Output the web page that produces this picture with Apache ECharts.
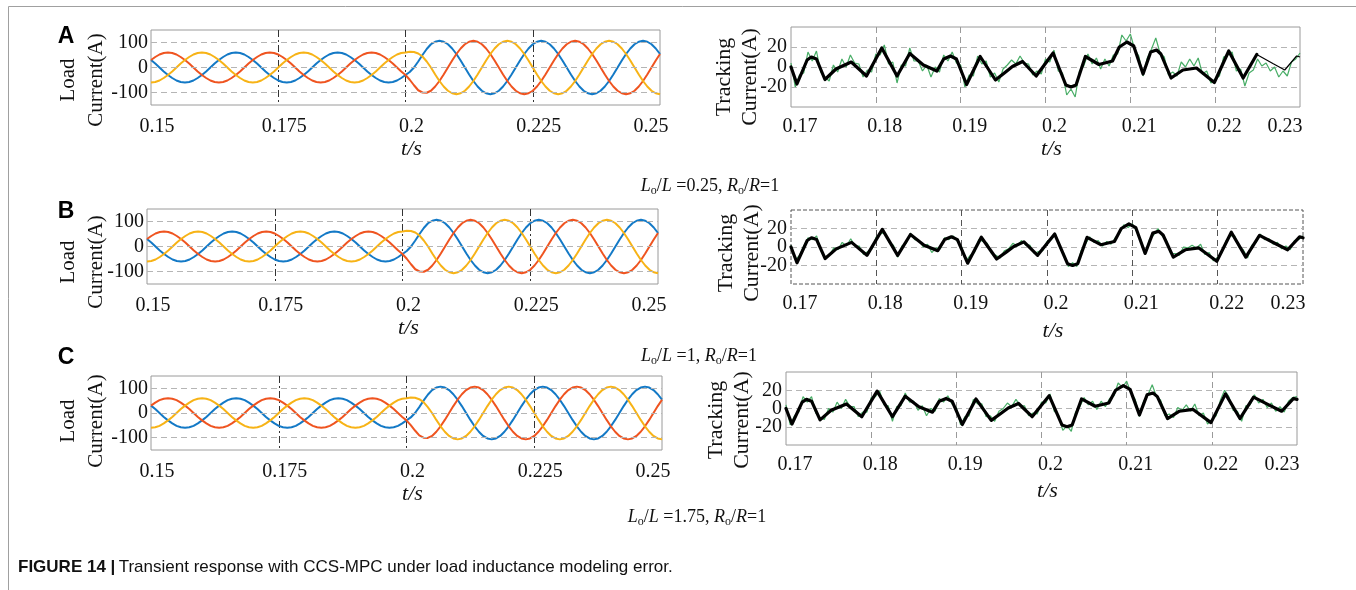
<!DOCTYPE html>
<html>
<head>
<meta charset="utf-8">
<script src="https://cdn.jsdelivr.net/npm/echarts@6/dist/echarts.min.js"></script>
<style>
  html, body { margin: 0; padding: 0; background: #fff; }
  #chart { width: 1356px; height: 590px; }
</style>
</head>
<body>
<div id="chart"></div>
<script>
// ---- three-phase load currents (A), sampled every 1/1200 s from t = 0.15 s ----
const LOAD_T0 = 0.15;
const LOAD_DT = 1 / 1200;
const loadBlue = [30,16,0,-16,-30,-42,-52,-58,-60,-58,-52,-42,-30,-16,0,16,30,42,52,58,60,58,52,42,
  30,16,0,-16,-30,-42,-52,-58,-60,-58,-52,-42,-30,-16,0,16,30,42,52,58,60,58,52,42,
  30,16,0,-16,-30,-42,-52,-58,-60,-58,-52,-42,
  -30,-18,0,24,50,74,
  93,103,107,103,93,76,54,28,0,-28,-54,-76,-93,-103,-107,-103,-93,-76,-54,-28,0,28,54,76,
  93,103,107,103,93,76,54,28,0,-28,-54,-76,-93,-103,-107,-103,-93,-76,-54,-28,0,28,54,76,
  93,103,107,103,93,76,54];
const loadRed = [30,42,52,58,60,58,52,42,30,16,0,-16,-30,-42,-52,-58,-60,-58,-52,-42,-30,-16,0,16,
  30,42,52,58,60,58,52,42,30,16,0,-16,-30,-42,-52,-58,-60,-58,-52,-42,-30,-16,0,16,
  30,42,52,58,60,58,52,42,30,16,0,-16,
  -30,-49,-71,-91,-100,-101,
  -93,-76,-54,-28,0,28,54,76,93,103,107,103,93,76,54,28,0,-28,-54,-76,-93,-103,-107,-103,
  -93,-76,-54,-28,0,28,54,76,93,103,107,103,93,76,54,28,0,-28,-54,-76,-93,-103,-107,-103,
  -93,-76,-54,-28,0,28,54];
const loadYellow = [-60,-58,-52,-42,-30,-16,0,16,30,42,52,58,60,58,52,42,30,16,0,-16,-30,-42,-52,-58,
  -60,-58,-52,-42,-30,-16,0,16,30,42,52,58,60,58,52,42,30,16,0,-16,-30,-42,-52,-58,
  -60,-58,-52,-42,-30,-16,0,16,30,42,52,58,
  60,63,62,56,44,24,
  0,-28,-54,-76,-93,-103,-107,-103,-93,-76,-54,-28,0,28,54,76,93,103,107,103,93,76,54,28,
  0,-28,-54,-76,-93,-103,-107,-103,-93,-76,-54,-28,0,28,54,76,93,103,107,103,93,76,54,28,
  0,-28,-54,-76,-93,-103,-107];
const loadGridValues = [-100, 0, 100];

// ---- tracking current: reference (black) vertices ----
const refT = [0.1700,0.1707,0.1719,0.1724,0.1730,0.1740,0.1753,0.1771,0.1789,0.1807,0.1825,0.1840,0.1856,
  0.1872,0.1880,0.1888,0.1895,0.1907,0.1923,0.1941,0.1953,0.1961,0.1973,0.1989,0.2009,0.2024,0.2030,
  0.2036,0.2047,0.2063,0.2079,0.2087,0.2096,0.2104,0.2115,0.2124,0.2131,0.2136,0.2148,0.2162,0.2178,
  0.2199,0.2216,0.2233,0.2249,0.2268,0.2282,0.2296,0.2300];
const refI = [0,-17,7,10,8,-12.5,-2,5,-9,19,-9,13.5,2,-4,8,11,8,-17.5,10.5,-13,-5,0.5,5.5,-9,14,-18,-20,
  -18,10.5,2.5,6,20,25,21,-7,15,17,13,-11,-3,-1,-15.5,16,-11,12.5,3.5,-3,11,10];

// ---- measured tracking current (green), sampled every 0.5 ms from t = 0.17 s ----
const TRK_T0 = 0.17;
const TRK_DT = 0.0005;
const trackA = [4,-20,-8,-6,15,6,16,-5,-10,-14, 2,-5,8,0,12,4,3,-10,-3,-5, 13,12,22,3,5,-16,2,1,19,6,
  6,-4,2,-10,0,-5,12,6,15,4, 2,-20,-8,-9,11,3,6,-10,-6,-15, -2,2,7,3,11,4,3,-8,-4,-7,
  8,5,17,-4,-6,-28,-22,-30,-4,1, 13,3,9,-2,8,1,12,13,32,26, 33,18,11,-9,9,18,29,14,10,-8,
  -5,-9,5,0,8,1,9,-7,-4,-16, -12,-9,10,12,15,-4,-2,-19,-6,-3, 8,1,4,-4,0,-10,-4,-9,5,8, 14];
const trackB = [2,-14,-9,1,10,8,12,-4,-11,-9, -1,-3,5,1,9,1,1,-8,-5,-2, 11,14,16,5,2,-11,1,4,15,8,
  7,0,3,-6,-1,-2,10,8,12,6, 0,-15,-9,-6,8,6,4,-7,-9,-12, -4,-2,4,1,7,2,2,-7,-5,-4,
  6,8,14,-1,-8,-21,-17,-21,-4,3, 11,5,7,1,6,3,10,15,24,21, 25,17,8,-8,8,13,20,12,7,-7,
  -7,-9,0,-1,2,-1,3,-8,-6,-15, -11,-6,7,12,12,0,-3,-12,2,5, 14,8,9,3,5,-2,1,-3,7,8, 12];
const trackC = [4,-18,-8,-4,13,7,13,-5,-10,-12, 0,-4,7,0,10,2,2,-9,-4,-4, 12,13,19,4,3,-14,2,3,17,7,
  8,-2,3,-8,0,-3,11,7,14,5, 1,-18,-9,-8,10,5,5,-9,-8,-14, -3,0,6,2,10,3,3,-8,-5,-6,
  7,6,16,-3,-7,-24,-19,-25,-4,2, 12,4,8,-1,8,2,11,14,28,23, 30,17,10,-9,8,15,26,13,9,-8,
  -6,-10,1,-2,4,-3,5,-8,-5,-17, -12,-8,9,20,13,-2,-3,-14,3,4, 15,6,10,1,6,-3,2,-4,8,12, 13];

const rowLetters = ['A', 'B', 'C'];
const ratioLabels = ['0.25', '1', '1.75'];
const figureCaption = 'Transient response with CCS-MPC under load inductance modeling error.';

// ---- layout (pixels) ----
const rows = [
  { load: { left: 151, top: 30, width: 509, height: 75 }, trk: { left: 791, top: 27, width: 509, height: 80 },
    letter: [66, 37], loadName: [82, 80], trkName: [737, 77], caption: [710, 186],
    loadGap: 32, trkGap: 31, trkFrame: 'solid', trkGridColor: '#9a9a9a', thinTail: 0.2249, green: trackA },
  { load: { left: 147, top: 209, width: 511, height: 75 }, trk: { left: 791, top: 210, width: 512, height: 74 },
    letter: [66, 212], loadName: [82, 262], trkName: [739, 253], caption: [699, 356],
    loadGap: 32, trkGap: 36, trkFrame: 'dashed', trkGridColor: '#555', thinTail: null, green: trackB },
  { load: { left: 151, top: 376, width: 511, height: 74 }, trk: { left: 786, top: 372, width: 511, height: 73 },
    letter: [66, 358], loadName: [82, 421], trkName: [729, 420], caption: [697, 517],
    loadGap: 30, trkGap: 35, trkFrame: 'solid', trkGridColor: '#9a9a9a', thinTail: null, green: trackC }
];

const SERIF = '"Liberation Serif", "Times New Roman", serif';
const SANS = '"Liberation Sans", Arial, sans-serif';
const BLUE = '#1379c6', RED = '#ef5420', YELLOW = '#f7b316', GREEN = '#48ad66';

function tickRich(shiftRight, shiftLeft) {
  const base = { fontFamily: SERIF, fontSize: 20, color: '#111' };
  return {
    n: Object.assign({ padding: [0, 0, 0, shiftRight] }, base),
    e: Object.assign({ padding: [0, shiftLeft, 0, 0] }, base)
  };
}
function xLabel(max) {
  return (v) => {
    const s = String(+v.toFixed(4));
    return Math.abs(v - max) < 1e-9 ? '{e|' + s + '}' : '{n|' + s + '}';
  };
}

const grids = [], xAxes = [], yAxes = [], series = [], graphics = [];

rows.forEach((r, i) => {
  // left: load currents
  grids.push(Object.assign({ show: true, borderColor: '#9a9a9a', borderWidth: 1, containLabel: false }, r.load));
  // right: tracking current
  grids.push(Object.assign({ show: true, borderColor: r.trkFrame === 'dashed' ? '#555' : '#9a9a9a', borderWidth: 1,
    borderType: r.trkFrame, containLabel: false }, r.trk));

  const gL = 2 * i, gR = 2 * i + 1;
  const nameStyle = { fontFamily: SERIF, fontStyle: 'italic', fontSize: 22, color: '#111', padding: [0, 0, 0, 12] };

  xAxes.push({
    type: 'value', gridIndex: gL, min: 0.15, max: 0.25, interval: 0.025,
    axisLine: { show: false }, axisTick: { show: false },
    axisLabel: { margin: 12, formatter: xLabel(0.25), rich: tickRich(12, 18) },
    splitLine: { show: true, showMinLine: false, showMaxLine: false,
      lineStyle: { color: '#333', width: 1, type: [7, 3, 2, 3] } },
    name: 't/s', nameLocation: 'middle', nameGap: r.loadGap, nameTextStyle: nameStyle
  });
  xAxes.push({
    type: 'value', gridIndex: gR, min: 0.17, max: 0.23, interval: 0.01,
    axisLine: { show: false }, axisTick: { show: false },
    axisLabel: { margin: 10, formatter: xLabel(0.23), rich: tickRich(18, 30) },
    splitLine: { show: true, showMinLine: false, showMaxLine: false,
      lineStyle: { color: r.trkGridColor, width: 1, type: [6, 4] } },
    name: 't/s', nameLocation: 'middle', nameGap: r.trkGap, nameTextStyle: nameStyle
  });
  yAxes.push({
    type: 'value', gridIndex: gL, min: -150, max: 150, interval: 50,
    axisLine: { show: false }, axisTick: { show: false }, splitLine: { show: false },
    axisLabel: { margin: 3, fontFamily: SERIF, fontSize: 20, color: '#111',
      formatter: (v) => (loadGridValues.indexOf(v) >= 0 ? String(v) : '') }
  });
  yAxes.push({
    type: 'value', gridIndex: gR, min: -40, max: 40, interval: 20,
    axisLine: { show: false }, axisTick: { show: false },
    splitLine: { show: true, showMinLine: false, showMaxLine: false,
      lineStyle: { color: '#b5b5b5', width: 1, type: [6, 4] } },
    axisLabel: { margin: 4, fontFamily: SERIF, fontSize: 20, color: '#111',
      formatter: (v) => (Math.abs(v) === 40 ? '' : String(v)) }
  });

  // dashed horizontal guides of the load plot
  series.push({
    type: 'line', xAxisIndex: gL, yAxisIndex: gL, data: [], z: 1, silent: true,
    markLine: { silent: true, symbol: ['none', 'none'], label: { show: false },
      lineStyle: { color: '#b5b5b5', width: 1, type: [6, 4] },
      data: loadGridValues.map((v) => ({ yAxis: v })) }
  });
  [[loadBlue, BLUE], [loadRed, RED], [loadYellow, YELLOW]].forEach(([vals, color]) => {
    series.push({
      type: 'line', xAxisIndex: gL, yAxisIndex: gL, showSymbol: false, symbol: 'none', z: 2,
      lineStyle: { color: color, width: 2 },
      data: vals.map((v, k) => [LOAD_T0 + k * LOAD_DT, v])
    });
  });

  // measured (green) and reference (black) tracking current
  series.push({
    type: 'line', xAxisIndex: gR, yAxisIndex: gR, showSymbol: false, symbol: 'none', z: 2,
    lineStyle: { color: GREEN, width: 1.2 },
    data: r.green.map((v, k) => [TRK_T0 + k * TRK_DT, v])
  });
  const refPairs = refT.map((t, k) => [t, refI[k]]);
  const thick = r.thinTail ? refPairs.filter((p) => p[0] <= r.thinTail + 1e-9) : refPairs;
  series.push({
    type: 'line', xAxisIndex: gR, yAxisIndex: gR, showSymbol: false, symbol: 'none', z: 3,
    lineStyle: { color: '#000', width: 3.2, join: 'round', cap: 'round' }, data: thick
  });
  if (r.thinTail) {
    series.push({
      type: 'line', xAxisIndex: gR, yAxisIndex: gR, showSymbol: false, symbol: 'none', z: 3,
      lineStyle: { color: '#000', width: 1.2 },
      data: refPairs.filter((p) => p[0] >= r.thinTail - 1e-9)
    });
  }

  // panel letter, axis titles, parameter caption
  graphics.push({ type: 'text', x: r.letter[0], y: r.letter[1],
    style: { text: rowLetters[i], font: 'bold 23px ' + SANS, fill: '#000', align: 'center', verticalAlign: 'middle' } });
  graphics.push({ type: 'text', x: r.loadName[0], y: r.loadName[1], rotation: Math.PI / 2,
    style: { text: 'Load\nCurrent(A)', font: '21px ' + SERIF, lineHeight: 28, fill: '#111', align: 'center', verticalAlign: 'middle' } });
  graphics.push({ type: 'text', x: r.trkName[0], y: r.trkName[1], rotation: Math.PI / 2,
    style: { text: 'Tracking\nCurrent(A)', font: '22px ' + SERIF, lineHeight: 26, fill: '#111', align: 'center', verticalAlign: 'middle' } });
  graphics.push({ type: 'text', x: r.caption[0], y: r.caption[1],
    style: {
      text: '{i|L}{s|o}{n|/}{i|L}{n| =' + ratioLabels[i] + ', }{i|R}{s|o}{n|/}{i|R}{n|=1}',
      align: 'center', verticalAlign: 'middle',
      rich: {
        i: { fontFamily: SERIF, fontStyle: 'italic', fontSize: 18, fill: '#111', lineHeight: 20 },
        n: { fontFamily: SERIF, fontSize: 18, fill: '#111', lineHeight: 20 },
        s: { fontFamily: SERIF, fontSize: 12, fill: '#111', lineHeight: 20, padding: [9, 0, 0, 0] }
      }
    } });
});

// figure caption and outer frame
graphics.push({ type: 'text', x: 18, y: 567,
  style: {
    text: '{b|FIGURE 14 |} {r|' + figureCaption + '}', align: 'left', verticalAlign: 'middle',
    rich: {
      b: { fontFamily: SANS, fontWeight: 'bold', fontSize: 17, fill: '#111' },
      r: { fontFamily: SANS, fontSize: 17, fill: '#111' }
    }
  } });
graphics.push({ type: 'polyline', shape: { points: [[8.5, 590], [8.5, 6.5], [1356, 6.5]] },
  style: { stroke: '#a0a0a0', lineWidth: 1, fill: null } });

const chart = echarts.init(document.getElementById('chart'), null, { renderer: 'canvas' });
chart.setOption({
  animation: false,
  backgroundColor: '#fff',
  grid: grids,
  xAxis: xAxes,
  yAxis: yAxes,
  series: series,
  graphic: graphics
});
</script>
</body>
</html>
